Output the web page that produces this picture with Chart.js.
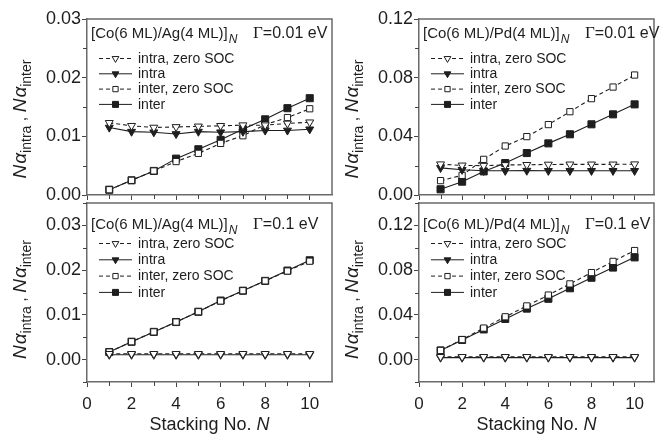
<!DOCTYPE html>
<html>
<head>
<meta charset="utf-8">
<script src="https://cdn.jsdelivr.net/npm/chart.js@4.4.0/dist/chart.umd.min.js"></script>
<style>
  body { margin: 0; background: #fff; overflow: hidden; }
  #wrap { position: relative; width: 660px; height: 438px; }
  canvas { position: absolute; left: 0; top: 0; }
</style>
</head>
<body>
<div id="wrap">
  <canvas id="chTL" width="660" height="438"></canvas>
  <canvas id="chTR" width="660" height="438"></canvas>
  <canvas id="chBL" width="660" height="438"></canvas>
  <canvas id="chBR" width="660" height="438"></canvas>
</div>
<script>
// stacking number N
var stackN = [1, 2, 3, 4, 5, 6, 7, 8, 9, 10];

// [Co(6 ML)/Ag(4 ML)]_N, Gamma = 0.01 eV
var agIntraZero1 = [0.0123, 0.0118, 0.0115, 0.0116, 0.0117, 0.0118, 0.0119, 0.0119, 0.0122, 0.0124];
var agIntra1     = [0.0115, 0.0108, 0.0107, 0.0104, 0.0108, 0.0107, 0.0108, 0.0110, 0.0110, 0.0112];
var agInterZero1 = [0.0009, 0.0025, 0.0041, 0.0057, 0.0071, 0.0088, 0.0101, 0.0120, 0.0132, 0.0147];
var agInter1     = [0.0009, 0.0025, 0.0041, 0.0062, 0.0078, 0.0094, 0.0112, 0.0129, 0.0148, 0.0165];

// [Co(6 ML)/Pd(4 ML)]_N, Gamma = 0.01 eV
var pdIntraZero1 = [0.0210, 0.0202, 0.0200, 0.0205, 0.0206, 0.0208, 0.0209, 0.0209, 0.0209, 0.0210];
var pdIntra1     = [0.0185, 0.0172, 0.0165, 0.0165, 0.0166, 0.0165, 0.0165, 0.0165, 0.0165, 0.0165];
var pdInterZero1 = [0.0098, 0.0134, 0.0243, 0.0334, 0.0398, 0.0480, 0.0568, 0.0657, 0.0736, 0.0818];
var pdInter1     = [0.0039, 0.0091, 0.0161, 0.0218, 0.0286, 0.0352, 0.0414, 0.0482, 0.0550, 0.0618];

// [Co(6 ML)/Ag(4 ML)]_N, Gamma = 0.1 eV
var agIntraZero2 = [0.0013, 0.0013, 0.0013, 0.0013, 0.0013, 0.0013, 0.0013, 0.0013, 0.0013, 0.0013];
var agIntra2     = [0.0011, 0.0011, 0.0011, 0.0011, 0.0011, 0.0011, 0.0011, 0.0011, 0.0011, 0.0011];
var agInterZero2 = [0.0017, 0.0040, 0.0062, 0.0084, 0.0107, 0.0131, 0.0154, 0.0176, 0.0198, 0.0220];
var agInter2     = [0.0017, 0.0040, 0.0062, 0.0084, 0.0107, 0.0132, 0.0154, 0.0176, 0.0199, 0.0222];

// [Co(6 ML)/Pd(4 ML)]_N, Gamma = 0.1 eV
var pdIntraZero2 = [0.0025, 0.0025, 0.0025, 0.0025, 0.0025, 0.0025, 0.0025, 0.0025, 0.0025, 0.0025];
var pdIntra2     = [0.0018, 0.0018, 0.0018, 0.0018, 0.0018, 0.0018, 0.0018, 0.0018, 0.0018, 0.0018];
var pdInterZero2 = [0.0082, 0.0179, 0.0282, 0.0383, 0.0480, 0.0577, 0.0677, 0.0778, 0.0878, 0.0975];
var pdInter2     = [0.0082, 0.0176, 0.0270, 0.0364, 0.0456, 0.0544, 0.0638, 0.0732, 0.0823, 0.0914];

// tick labels
var xTicks = [0, 2, 4, 6, 8, 10];
var xMinor = [1, 3, 5, 7, 9];
var agTicks = [0, 0.01, 0.02, 0.03];
var agMinorTop = [0.005, 0.015, 0.025];
var agMinorBot = [-0.005, 0.005, 0.015, 0.025, 0.035];
var pdTicks = [0, 0.04, 0.08, 0.12];
var pdMinorTop = [0.02, 0.06, 0.10];
var pdMinorBot = [-0.02, 0.02, 0.06, 0.10, 0.14];

var seriesNames = ['intra, zero SOC', 'intra', 'inter, zero SOC', 'inter'];

var INK = '#1e1e1e';
var FRAME = '#6a6a6a';
var SANS = '"Liberation Sans", Arial, sans-serif';

function pts(vals) {
  return stackN.map(function (n, i) { return { x: n, y: vals[i] }; });
}

function makeSets(intraZero, intra, interZero, inter) {
  var base = { borderColor: INK, borderWidth: 1.1, pointBorderColor: INK, pointBorderWidth: 1 };
  return [
    Object.assign({}, base, { label: seriesNames[0], data: pts(intraZero), borderDash: [4, 3],
      pointStyle: 'triangle', pointRotation: 180, pointRadius: 4.6, pointBackgroundColor: '#fff' }),
    Object.assign({}, base, { label: seriesNames[1], data: pts(intra),
      pointStyle: 'triangle', pointRotation: 180, pointRadius: 4.6, pointBackgroundColor: INK }),
    Object.assign({}, base, { label: seriesNames[2], data: pts(interZero), borderDash: [4, 3],
      pointStyle: 'rect', pointRadius: 4.4, pointBackgroundColor: '#fff' }),
    Object.assign({}, base, { label: seriesNames[3], data: pts(inter),
      pointStyle: 'rect', pointRadius: 5, pointBackgroundColor: INK })
  ];
}

function drawPieces(ctx, pieces, x, y) {
  pieces.forEach(function (p) {
    ctx.font = p.f;
    ctx.fillText(p.t, x, y + (p.dy || 0));
    x += ctx.measureText(p.t).width + (p.gap || 0);
  });
  return x;
}
function piecesWidth(ctx, pieces) {
  var w = 0;
  pieces.forEach(function (p) { ctx.font = p.f; w += ctx.measureText(p.t).width + (p.gap || 0); });
  return w;
}

var decor = {
  id: 'decor',
  afterDraw: function (chart, args, o) {
    var ctx = chart.ctx, a = chart.chartArea;
    var xs = chart.scales.x, ys = chart.scales.y;
    ctx.save();
    // top and right edges of the frame
    ctx.strokeStyle = FRAME;
    ctx.lineWidth = 1.5;
    ctx.beginPath();
    ctx.moveTo(a.left, a.top); ctx.lineTo(a.right, a.top); ctx.lineTo(a.right, a.bottom);
    ctx.stroke();
    // minor ticks
    ctx.strokeStyle = '#444';
    ctx.lineWidth = 1;
    ctx.beginPath();
    o.yMinor.forEach(function (v) {
      var py = Math.round(ys.getPixelForValue(v)) + 0.5;
      ctx.moveTo(a.left - 4, py); ctx.lineTo(a.left, py);
    });
    xMinor.forEach(function (v) {
      var px = Math.round(xs.getPixelForValue(v)) + 0.5;
      ctx.moveTo(px, a.bottom); ctx.lineTo(px, a.bottom + 4);
    });
    ctx.stroke();

    ctx.fillStyle = INK;
    ctx.textBaseline = 'alphabetic';
    ctx.textAlign = 'left';
    // header
    drawPieces(ctx, [
      { t: o.system, f: '15px ' + SANS, gap: 1 },
      { t: 'N', f: 'italic 12px ' + SANS, dy: 5 }
    ], a.left + 4, a.top + o.headY);
    drawPieces(ctx, [
      { t: 'Γ', f: '17px "Liberation Serif", serif' },
      { t: '=' + o.gamma + ' eV', f: '16px ' + SANS }
    ], a.left + 166, a.top + o.headY);

    // legend
    chart.data.datasets.forEach(function (ds, i) {
      var ly = a.top + o.legY + i * o.legStep;
      var x1 = a.left + 12, x2 = a.left + 45;
      ctx.strokeStyle = INK;
      ctx.lineWidth = 1;
      ctx.setLineDash(ds.borderDash || []);
      ctx.beginPath(); ctx.moveTo(x1, ly + 0.5); ctx.lineTo(x2, ly + 0.5); ctx.stroke();
      ctx.setLineDash([]);
      ctx.fillStyle = ds.pointBackgroundColor;
      ctx.strokeStyle = INK;
      Chart.helpers.drawPoint(ctx, {
        pointStyle: ds.pointStyle, rotation: ds.pointRotation || 0,
        radius: ds.pointRadius * 0.85, borderWidth: 1
      }, (x1 + x2) / 2, ly + 0.5);
      ctx.fillStyle = INK;
      ctx.font = '14px ' + SANS;
      ctx.textBaseline = 'middle';
      ctx.fillText(ds.label, a.left + 51, ly + 1);
    });

    // y title, rotated
    ctx.textBaseline = 'alphabetic';
    var yt = [
      { t: 'N', f: 'italic 19px ' + SANS, gap: 1 },
      { t: 'α', f: 'italic 19px ' + SANS },
      { t: 'intra', f: '14px ' + SANS, dy: 5 },
      { t: ' , ', f: '16px ' + SANS },
      { t: 'N', f: 'italic 19px ' + SANS, gap: 1 },
      { t: 'α', f: 'italic 19px ' + SANS },
      { t: 'inter', f: '14px ' + SANS, dy: 5 }
    ];
    ctx.save();
    ctx.translate(a.left - 61, (a.top + a.bottom) / 2 + o.titleShift);
    ctx.rotate(-Math.PI / 2);
    drawPieces(ctx, yt, -piecesWidth(ctx, yt) / 2, 0);
    ctx.restore();

    // x title
    if (o.xTitle) {
      var xt = [
        { t: 'Stacking No. ', f: '18px ' + SANS },
        { t: 'N', f: 'italic 18px ' + SANS }
      ];
      drawPieces(ctx, xt, (a.left + a.right) / 2 - piecesWidth(ctx, xt) / 2, 430);
    }
    ctx.restore();
  }
};

function makePanel(id, sets, p) {
  var tickFont = { family: SANS, size: 18 };
  return new Chart(document.getElementById(id).getContext('2d'), {
    type: 'line',
    data: { datasets: sets },
    plugins: [decor],
    options: {
      responsive: false,
      animation: false,
      layout: { padding: { left: p.padL, right: p.padR, top: p.top, bottom: p.padB } },
      plugins: {
        legend: { display: false },
        tooltip: { enabled: false },
        decor: p.decor
      },
      scales: {
        x: {
          type: 'linear', min: 0, max: p.xMax,
          afterBuildTicks: function (s) { s.ticks = xTicks.map(function (v) { return { value: v }; }); },
          afterFit: function (s) { s.height = p.xH; },
          ticks: { display: p.xLabels, font: { family: SANS, size: 17 }, color: INK, padding: 7, maxRotation: 0, autoSkip: false,
            callback: function (v) { return String(v); } },
          grid: { drawOnChartArea: false, tickLength: 5, tickColor: '#444' },
          border: { color: FRAME, width: 1.5 }
        },
        y: {
          type: 'linear', min: p.yMin, max: p.yMax,
          afterBuildTicks: function (s) { s.ticks = p.yTicks.map(function (v) { return { value: v }; }); },
          afterFit: function (s) { s.width = p.yW; },
          ticks: { font: tickFont, color: INK, padding: 1,
            callback: function (v) { return v.toFixed(2); } },
          grid: { drawOnChartArea: false, tickLength: 5, tickColor: '#444' },
          border: { color: FRAME, width: 1.5 }
        }
      }
    }
  });
}

var chartTL = makePanel('chTL', makeSets(agIntraZero1, agIntra1, agInterZero1, agInter1), {
  padL: 0, padR: 328, top: 19, padB: 236, xH: 7, xMax: 11, xLabels: false, yW: 87,
  yMin: 0, yMax: 0.03, yTicks: agTicks,
  decor: { system: '[Co(6 ML)/Ag(4 ML)]', gamma: '0.01', headY: 19, legY: 39, legStep: 15.3,
    yMinor: agMinorTop, titleShift: 12, xTitle: false }
});

var chartTR = makePanel('chTR', makeSets(pdIntraZero1, pdIntra1, pdInterZero1, pdInter1), {
  padL: 330, padR: 0, top: 19, padB: 236, xH: 7, xMax: 10.9, xLabels: false, yW: 89,
  yMin: 0, yMax: 0.12, yTicks: pdTicks,
  decor: { system: '[Co(6 ML)/Pd(4 ML)]', gamma: '0.01', headY: 19, legY: 39, legStep: 15.3,
    yMinor: pdMinorTop, titleShift: 12, xTitle: false }
});

var chartBL = makePanel('chBL', makeSets(agIntraZero2, agIntra2, agInterZero2, agInter2), {
  padL: 0, padR: 328, top: 203, padB: 0, xH: 56, xMax: 11, xLabels: true, yW: 87,
  yMin: -0.005, yMax: 0.035, yTicks: agTicks,
  decor: { system: '[Co(6 ML)/Ag(4 ML)]', gamma: '0.1', headY: 26, legY: 40, legStep: 16.3,
    yMinor: agMinorBot, titleShift: 7, xTitle: true }
});

var chartBR = makePanel('chBR', makeSets(pdIntraZero2, pdIntra2, pdInterZero2, pdInter2), {
  padL: 330, padR: 0, top: 203, padB: 0, xH: 56, xMax: 10.9, xLabels: true, yW: 89,
  yMin: -0.02, yMax: 0.14, yTicks: pdTicks,
  decor: { system: '[Co(6 ML)/Pd(4 ML)]', gamma: '0.1', headY: 26, legY: 40, legStep: 16.3,
    yMinor: pdMinorBot, titleShift: 7, xTitle: true }
});
</script>
</body>
</html>
